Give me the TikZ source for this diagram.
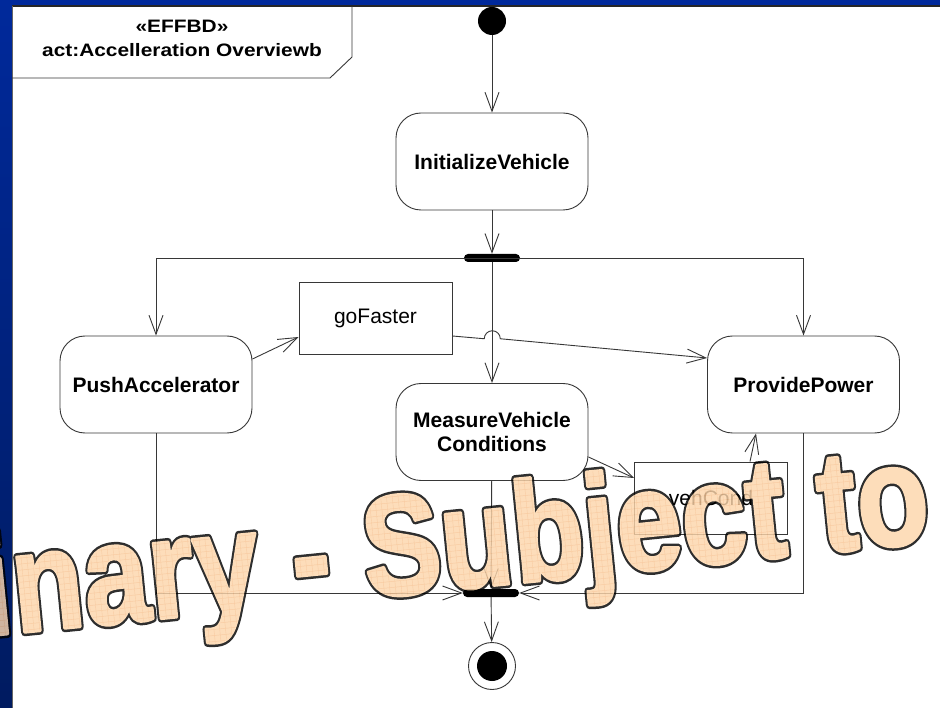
\documentclass[tikz,border=0pt]{standalone}
\usepackage{fontspec}
\setmainfont{Liberation Sans}
\usetikzlibrary{arrows.meta,calc}

\definecolor{slideblue}{RGB}{0,41,155}
\definecolor{slidenavy}{RGB}{0,27,96}
\definecolor{ink}{RGB}{55,55,55}
\definecolor{wmfill}{RGB}{253,214,172}

% grid lines laid over the watermark letters
\newcount\wmi
\def\wmpath{}
\wmi=0
\loop \edef\wmpath{\wmpath\the\wmi\space -40 m \the\wmi\space 118 l }%
  \advance\wmi by 7 \ifnum\wmi<1500 \repeat
\wmi=-40
\loop \edef\wmpath{\wmpath 0 \the\wmi\space m 1500 \the\wmi\space l }%
  \advance\wmi by 6 \ifnum\wmi<119 \repeat

\newcommand\wmwords{Preliminary - Subject to}
\newcommand\wmsqueeze{0.822}
% glyphs filled and stroked (the stroke widens them)
\newcommand\wmstroked[2]{\scalebox{\wmsqueeze}[1]{\special{pdf:literal direct 2 Tr #1 w 1 j #2 RG}\wmwords\special{pdf:literal direct 0 Tr}}}
% glyphs used as a clip for the grid
\newsavebox\wmbox
\newcommand\wmgridded{\sbox\wmbox{\wmwords}\scalebox{\wmsqueeze}[1]{\special{x:gsave}\special{pdf:literal direct 7 Tr}\usebox\wmbox\kern-\wd\wmbox
    \special{pdf:literal 0.97 0.76 0.56 RG 0.5 w \wmpath S}\special{x:grestore}\kern\wd\wmbox}}

\begin{document}
\begin{tikzpicture}[x=1pt,y=-1pt,
  flow/.style={draw=ink, line width=0.9pt, -{Straight Barb[length=19pt,width=14pt]}},
  wire/.style={draw=ink, line width=0.9pt},
  action/.style={draw=ink, line width=0.9pt, rounded corners=25pt,
    minimum width=192pt, minimum height=97pt, align=center, inner sep=0pt,
    font=\fontsize{21}{24}\selectfont\bfseries},
  objnode/.style={draw=ink, line width=0.9pt, minimum width=153pt,
    minimum height=72pt, inner sep=0pt, font=\fontsize{21}{24}\selectfont},
  syncbar/.style={fill=black, rounded corners=4pt, minimum width=56pt,
    minimum height=8pt, inner sep=0pt},
  hdr/.style={anchor=base, inner sep=0pt, font=\fontsize{18}{22}\selectfont\bfseries},
  wmark/.style={anchor=base west, rotate=5.7, inner sep=0pt,
    font=\fontsize{143}{143}\selectfont\bfseries},
]
\useasboundingbox (0,0) rectangle (940,708);
\fill[white] (0,0) rectangle (940,708);

% slide border
\shade[top color=slideblue, bottom color=slidenavy] (0,0) rectangle (12,708);
\fill[slideblue] (0,0) rectangle (940,6);
\draw[black!85, line width=1.4pt] (12,6) -- (940,6);
\draw[black!60, line width=1pt] (12,6) -- (12,708);

% frame header
\draw[wire] (12,78) -- (330,78) -- (352,57) -- (352,6);
\node[hdr] (hdrA) at (182,33) {\scalebox{1.16}[1]{«EFFBD»}};
\node[hdr] (hdrB) at (182,57) {\scalebox{1.16}[1]{act:Accelleration Overviewb}};

% nodes
\node[circle, fill=black, minimum size=28pt, inner sep=0pt] (start) at (492,21) {};
\node[action] (iv) at (492,161.5) {InitializeVehicle};
\node[syncbar] (fork) at (492,258) {};
\node[action] (pa) at (156,384.5) {PushAccelerator};
\node[action] (pp) at (803.5,384.5) {ProvidePower};
\node[action] (mvc) at (492,432) {MeasureVehicle\\Conditions};
\node[objnode] (gf) at (375.5,318) {goFaster};
\node[objnode] (vc) at (711,498) {vehCond};
\node[syncbar] (join) at (491,593) {};
\node[circle, draw=ink, line width=0.9pt, minimum size=47pt, inner sep=0pt] (final) at (492,666) {};
\fill[black] (final.center) circle[radius=15];

% control flow
\draw[flow] (start) -- (iv);
\draw[flow] (iv) -- (fork);
\draw[flow] (fork.center) -| (pa.north);
\draw[flow] (fork.center) -| (pp.north);
\draw[flow] (fork) -- (mvc);
\draw[flow] (pa.south) |- (join.west);
\draw[flow] (pp.south) |- (join.east);
\draw[flow] (mvc) -- (join);
\draw[flow] (join) -- (final);

% object flow
\draw[flow] ($(pa.east)+(0,-25.5)$) -- ($(gf.west)+(0,19)$);
\coordinate (gfout) at ($(gf.east)+(0,18)$);
\coordinate (ppin) at ($(pp.west)+(0,-26.5)$);
\coordinate (hopa) at ($(gfout)!0.125!(ppin)$);
\draw[flow] (gfout) -- (hopa) arc[start angle=180, end angle=360, radius=8] -- (ppin);
\draw[flow] ($(mvc.east)+(0,25)$) -- ($(vc.west)+(0,-20)$);
\draw[flow] ($(vc.north)+(39,0)$) -- ($(pp.south)+(-47.5,0)$);

% watermark: rim, body and grid laid on top of each other
\begin{scope}[transparency group, opacity=0.82]
\clip (0,0) rectangle (940,708);
\node[wmark, text=black] (wmrim) at (-374,672) {\wmstroked{8}{0 0 0}};
\node[wmark, text=wmfill] (wmbody) at (-374,672) {\wmstroked{3}{0.992 0.839 0.675}};
\node[wmark, text=wmfill] (wmgrid) at (-374,672) {\wmgridded};
\end{scope}
\end{tikzpicture}
\end{document}
